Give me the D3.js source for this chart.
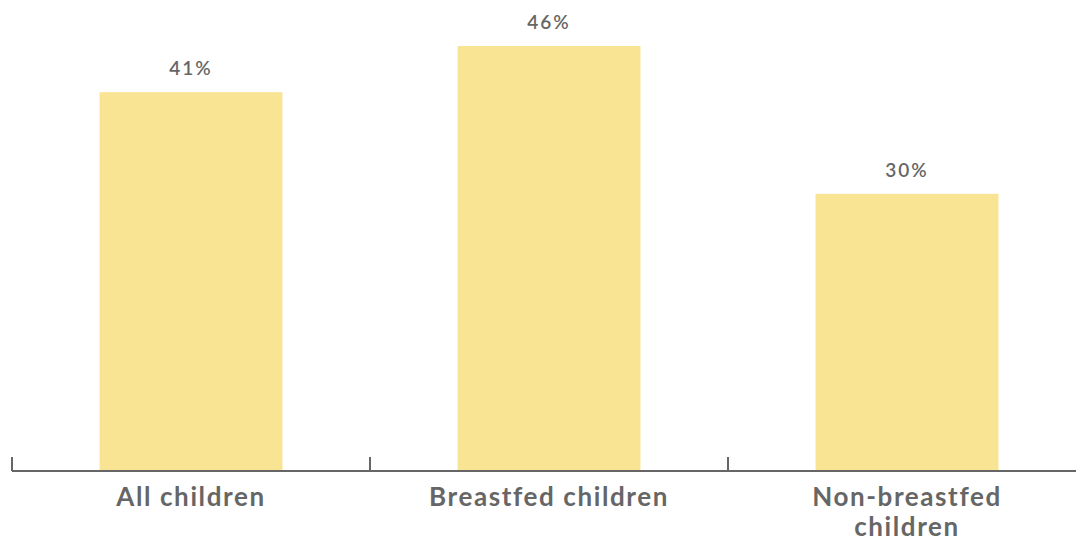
<!DOCTYPE html>
<html>
<head>
<meta charset="utf-8">
<script src="https://cdn.jsdelivr.net/npm/d3@7/dist/d3.min.js"></script>
<style>
  html, body { margin: 0; padding: 0; background: #fff; }
  svg { display: block; }
</style>
</head>
<body>
<svg id="chart" width="1076" height="543"></svg>
<script>
// Share of children, by breastfeeding status
const categories = ["All children", "Breastfed children", "Non-breastfed children"];
const categoryLines = [["All children"], ["Breastfed children"], ["Non-breastfed", "children"]];
const values = [41, 46, 30];
const valueLabels = ["41%", "46%", "30%"];

const width = 1076, height = 543;
const baseline = 471;

const svg = d3.select("#chart");

const x = d3.scaleBand()
  .domain(categories)
  .range([12, 1086])
  .paddingInner(0.489)
  .paddingOuter(0.2445);

const y = d3.scaleLinear()
  .domain([0, 46])
  .range([baseline, 46]);

// bars
svg.append("g")
  .selectAll("rect")
  .data(values)
  .join("rect")
  .attr("x", (d, i) => x(categories[i]))
  .attr("y", d => y(d))
  .attr("width", x.bandwidth())
  .attr("height", d => y(0) - y(d))
  .attr("fill", "#f9e493");

// value labels
svg.append("g")
  .selectAll("text")
  .data(values)
  .join("text")
  .attr("x", (d, i) => x(categories[i]) + x.bandwidth() / 2)
  .attr("y", d => y(d) - 17)
  .attr("text-anchor", "middle")
  .attr("font-family", "Lato, sans-serif")
  .attr("font-weight", 600)
  .attr("font-size", 19)
  .attr("letter-spacing", 2)
  .attr("fill", "#666")
  .text((d, i) => valueLabels[i]);

// category axis with upward ticks at band boundaries
const axisG = svg.append("g").attr("transform", `translate(0,${baseline})`);
axisG.append("line")
  .attr("x1", 12).attr("x2", width)
  .attr("y1", 0).attr("y2", 0)
  .attr("stroke", "#666").attr("stroke-width", 2);

const tickXs = categories.map(c => x(c) - x.step() * x.paddingInner() / 2);
axisG.selectAll("line.tick")
  .data(tickXs)
  .join("line")
  .attr("class", "tick")
  .attr("x1", d => d).attr("x2", d => d)
  .attr("y1", 0).attr("y2", -14)
  .attr("stroke", "#666").attr("stroke-width", 2);

// category labels
const labels = axisG.selectAll("text.cat")
  .data(categories)
  .join("text")
  .attr("class", "cat")
  .attr("x", d => x(d) + x.bandwidth() / 2)
  .attr("y", 35)
  .attr("text-anchor", "middle")
  .attr("font-family", "Lato, sans-serif")
  .attr("font-weight", "bold")
  .attr("font-size", 26)
  .attr("letter-spacing", 1.6)
  .attr("fill", "#666");

labels.each(function(d, i) {
  const t = d3.select(this);
  categoryLines[i].forEach((line, j) => {
    t.append("tspan")
      .attr("x", x(d) + x.bandwidth() / 2)
      .attr("dy", j === 0 ? 0 : 30)
      .text(line);
  });
});
</script>
</body>
</html>
